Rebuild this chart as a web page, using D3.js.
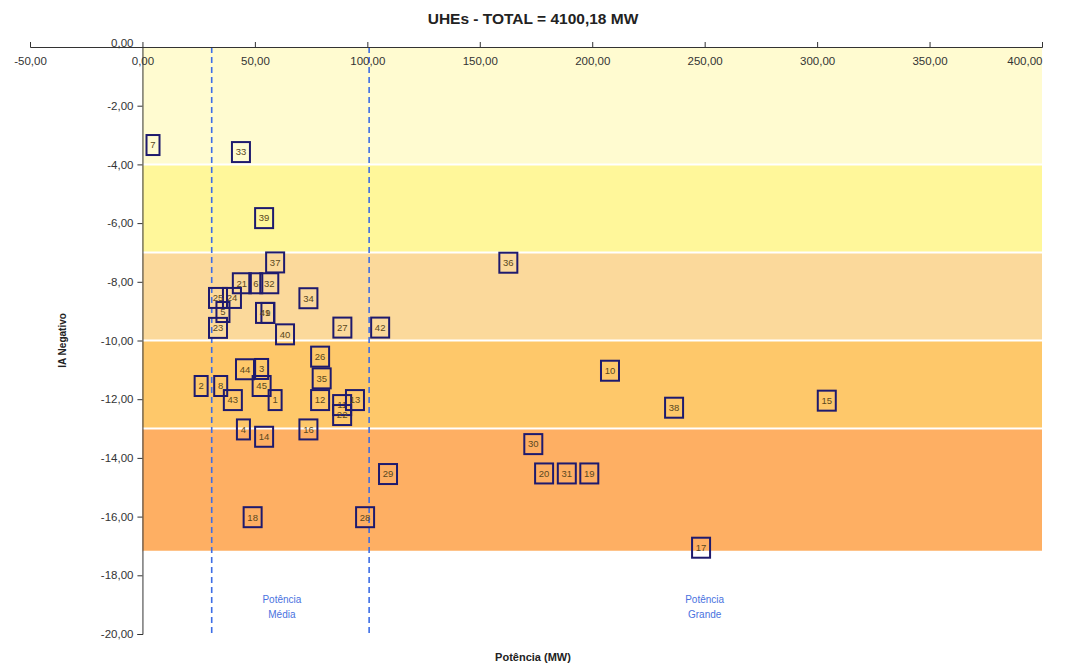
<!DOCTYPE html>
<html>
<head>
<meta charset="utf-8">
<script src="https://cdn.jsdelivr.net/npm/d3@7"></script>
<style>
  body { margin: 0; background: #fff; }
  svg { font-family: "Liberation Sans", Arial, sans-serif; }
</style>
</head>
<body>
<div id="main"></div>
<script>
const ctx = { w: 1066, h: 666 };

// UHE number, potência (MW), IA negativo
const ids = [1, 2, 3, 4, 5, 6, 7, 8, 9, 10, 11, 12, 13, 14, 15, 16, 17, 18, 19, 20, 21, 22, 23,
  24, 25, 26, 27, 28, 29, 30, 31, 32, 33, 34, 35, 36, 37, 38, 39, 40, 41, 42, 43, 44, 45];
const potencia = [59.0, 26.1, 53.0, 44.9, 35.8, 50.4, 4.7, 34.8, 55.8, 207.9, 88.8, 79.0, 94.5,
  54.1, 304.3, 73.8, 248.4, 49.0, 198.7, 178.6, 44.2, 88.8, 33.6, 39.8, 33.6, 79.0, 88.9, 99.0,
  109.2, 173.8, 188.7, 56.4, 43.8, 73.8, 79.7, 162.7, 59.0, 236.4, 54.1, 63.4, 54.5, 105.7,
  40.2, 45.6, 53.0];
const iaNeg = [-12.03, -11.55, -10.97, -13.03, -9.03, -8.05, -3.34, -11.55, -9.06, -11.03, -12.2,
  -12.03, -12.03, -13.28, -12.05, -13.03, -17.06, -16.02, -14.53, -14.53, -8.05, -12.54, -9.57,
  -8.55, -8.55, -10.55, -9.56, -16.02, -14.55, -13.53, -14.53, -8.05, -3.58, -8.56, -11.29,
  -7.35, -7.34, -12.29, -5.83, -9.79, -9.06, -9.56, -12.03, -10.98, -11.55];

// faixas de IA (topo, base, cor)
const bandTop = [0, -4, -7, -10, -13];
const bandBottom = [-4, -7, -10, -13, -17.2];
const bandColors = ["#fffbd0", "#fff79a", "#fbd99b", "#fec86a", "#feaf63"];

// limites de potência
const limites = [30.8, 100.8];
const limiteLabels = [["Potência", "Média"], ["Potência", "Grande"]];
const limiteLabelX = [62, 250];

const xTicks = [-50, 0, 50, 100, 150, 200, 250, 300, 350, 400];
const yTicks = [0, -2, -4, -6, -8, -10, -12, -14, -16, -18, -20];

const fmt = v => d3.format(".2f")(v).replace(".", ",").replace("−", "-");

const svg = d3.select("#main").append("svg")
  .attr("width", ctx.w)
  .attr("height", ctx.h);

const x = d3.scaleLinear().domain([-50, 400]).range([30, 1042]);
const y = d3.scaleLinear().domain([0, -20]).range([47, 634]);

// faixas
svg.append("g").selectAll("rect")
  .data(bandTop)
  .enter().append("rect")
  .attr("x", x(0))
  .attr("y", (d, i) => y(d))
  .attr("width", x(400) - x(0))
  .attr("height", (d, i) => y(bandBottom[i]) - y(d))
  .attr("fill", (d, i) => bandColors[i]);

svg.append("g").selectAll("line")
  .data(bandBottom)
  .enter().append("line")
  .attr("x1", x(0)).attr("x2", x(400))
  .attr("y1", d => y(d)).attr("y2", d => y(d))
  .attr("stroke", "#fff")
  .attr("stroke-width", 2);

// linhas tracejadas
svg.append("g").selectAll("line")
  .data(limites)
  .enter().append("line")
  .attr("x1", d => x(d)).attr("x2", d => x(d))
  .attr("y1", y(0)).attr("y2", y(-20))
  .attr("stroke", "#3d6ee6")
  .attr("stroke-width", 1.6)
  .attr("stroke-dasharray", "6,4");

const lg = svg.append("g");
limiteLabelX.forEach((v, i) => {
  lg.append("text")
    .attr("x", x(v))
    .attr("y", y(-18.95))
    .attr("text-anchor", "middle")
    .attr("font-size", 10)
    .attr("fill", "#4a72e0")
    .selectAll("tspan")
    .data(limiteLabels[i])
    .enter().append("tspan")
    .attr("x", x(v))
    .attr("dy", (d, j) => j === 0 ? 0 : 15)
    .text(d => d);
});

// eixos
const yAxis = svg.append("g")
  .attr("transform", `translate(${x(0)},0)`)
  .call(d3.axisLeft(y).tickValues(yTicks).tickSize(5).tickPadding(4).tickFormat(fmt));
yAxis.select(".domain").attr("stroke", "#333");
yAxis.selectAll(".tick line").attr("stroke", "#333");
yAxis.selectAll("text").attr("font-size", 11.5).attr("fill", "#333")
  .attr("font-family", "Liberation Sans, Arial, sans-serif");
yAxis.selectAll(".tick").filter(d => d === 0).select("text").attr("dy", "-0.05em");

const xAxis = svg.append("g")
  .attr("transform", `translate(0,${y(0)})`)
  .call(d3.axisTop(x).tickValues(xTicks).tickSize(5).tickFormat(fmt));
xAxis.select(".domain").attr("stroke", "#333");
xAxis.selectAll(".tick line").attr("stroke", "#333");
xAxis.selectAll("text")
  .attr("y", 18)
  .attr("dy", "0")
  .attr("font-size", 11.5)
  .attr("fill", "#333")
  .attr("font-family", "Liberation Sans, Arial, sans-serif");
xAxis.selectAll(".tick").filter(d => d === 400).select("text").attr("text-anchor", "end").attr("dx", 0);

// pontos
const pts = ids.map((id, i) => ({ id, p: potencia[i], ia: iaNeg[i] }));
const pg = svg.append("g").selectAll("g")
  .data(pts)
  .enter().append("g")
  .attr("transform", d => `translate(${x(d.p)},${y(d.ia)})`);

pg.append("rect")
  .attr("x", d => String(d.id).length > 1 ? -9 : -6.5)
  .attr("y", -10)
  .attr("width", d => String(d.id).length > 1 ? 18 : 13)
  .attr("height", 20)
  .attr("fill", "none")
  .attr("stroke", "#1e1a6e")
  .attr("stroke-width", 2);

pg.append("text")
  .attr("text-anchor", "middle")
  .attr("dy", "0.35em")
  .attr("font-size", 9.5)
  .attr("fill", "#5a4820")
  .text(d => d.id);

// títulos
svg.append("text")
  .attr("x", 533).attr("y", 24)
  .attr("text-anchor", "middle")
  .attr("font-size", 15.5)
  .attr("font-weight", "bold")
  .attr("fill", "#222")
  .text("UHEs - TOTAL = 4100,18 MW");

svg.append("text")
  .attr("transform", `translate(66,${y(-10)}) rotate(-90)`)
  .attr("text-anchor", "middle")
  .attr("font-size", 10)
  .attr("font-weight", "bold")
  .attr("fill", "#222")
  .text("IA Negativo");

svg.append("text")
  .attr("x", 533).attr("y", 661)
  .attr("text-anchor", "middle")
  .attr("font-size", 11)
  .attr("font-weight", "bold")
  .attr("fill", "#222")
  .text("Potência (MW)");
</script>
</body>
</html>
